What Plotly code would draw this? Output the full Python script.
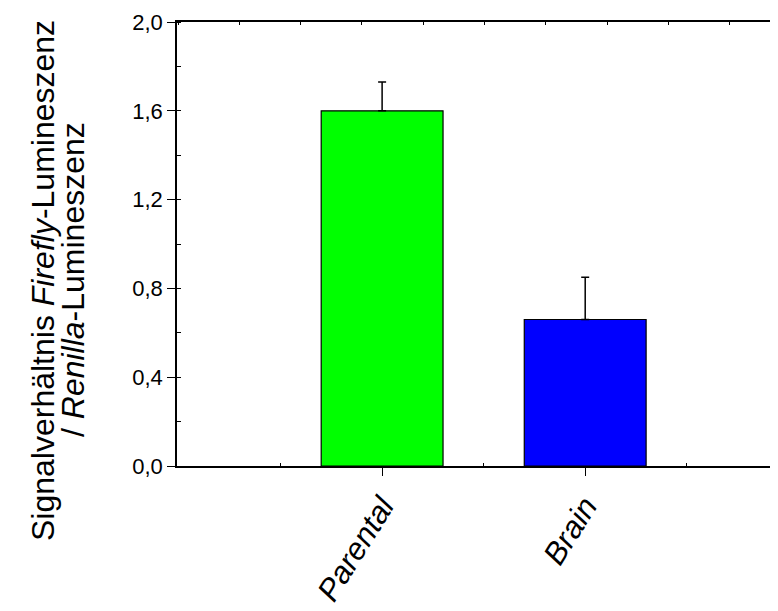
import plotly.graph_objects as go

categories = ["Parental", "Brain"]
values = [1.60, 0.66]
errors_plus = [0.13, 0.19]
bar_colors = ["#00FF00", "#0000FF"]
y_ticks = [0.0, 0.4, 0.8, 1.2, 1.6, 2.0]
y_ticklabels = ["0,0", "0,4", "0,8", "1,2", "1,6", "2,0"]
title_line1 = "Signalverhältnis <i>Firefly</i>-Lumineszenz"
title_line2 = "/ <i>Renilla</i>-Lumineszenz"

FONT = "Liberation Sans, Arial, sans-serif"
xpos = list(range(len(categories)))

fig = go.Figure()
fig.add_trace(go.Bar(
    x=xpos, y=values, width=0.60,
    marker=dict(color=bar_colors, line=dict(color="black", width=1.2)),
    error_y=dict(type="data", symmetric=False, array=errors_plus,
                 arrayminus=[0, 0], color="black", thickness=1.5, width=4),
    showlegend=False,
))
# invisible helper trace so the top axis (ticks only) is drawn
fig.add_trace(go.Scatter(x=[0, 1], y=[None, None], xaxis="x2", yaxis="y2",
                         mode="markers", showlegend=False, hoverinfo="skip"))

fig.update_layout(
    width=778, height=611,
    margin=dict(l=169, r=16, t=14, b=153),
    plot_bgcolor="white", paper_bgcolor="white",
    font=dict(family=FONT, color="black"),
    xaxis=dict(
        range=[-1.01, 1.91], automargin=False,
        tickvals=xpos, ticktext=categories,
        showline=True, linecolor="black", linewidth=1.5,
        ticks="outside", ticklen=8, tickwidth=1.2, tickcolor="black",
        tickangle=-58,
        tickfont=dict(size=31, style="italic", family=FONT),
        minor=dict(tick0=-0.5, dtick=1, ticks="inside", ticklen=3,
                   tickwidth=1.2, tickcolor="black"),
        showgrid=False, zeroline=False,
    ),
    xaxis2=dict(
        overlaying="x", side="top", range=[0, 1], automargin=False,
        tick0=0.0017, dtick=61.3 / 593,
        ticks="inside", ticklen=3, tickwidth=1.2, tickcolor="black",
        showticklabels=False, showgrid=False, zeroline=False,
        showline=True, linecolor="black", linewidth=1.5,
    ),
    yaxis=dict(
        range=[0, 2.0], tickvals=y_ticks, ticktext=y_ticklabels, automargin=False,
        showline=True, linecolor="black", linewidth=1.5,
        ticks="outside", ticklen=8, tickwidth=1.2, tickcolor="black",
        tickfont=dict(size=22, family=FONT),
        minor=dict(ticks="inside", ticklen=4, dtick=0.2, tickcolor="black", tickwidth=1.2),
        showgrid=False, zeroline=False,
    ),
    yaxis2=dict(overlaying="y", range=[0, 2.0], visible=False, automargin=False),
    annotations=[
        dict(text=title_line1, xref="paper", yref="paper",
             x=(43 - 177) / 593, y=(466 - 281) / 444,
             xanchor="center", yanchor="middle", textangle=-90,
             showarrow=False, font=dict(size=32, family=FONT, color="black")),
        dict(text=title_line2, xref="paper", yref="paper",
             x=(73 - 177) / 593, y=(466 - 280) / 444,
             xanchor="center", yanchor="middle", textangle=-90,
             showarrow=False, font=dict(size=32, family=FONT, color="black")),
    ],
)

fig.write_html("out.html")
